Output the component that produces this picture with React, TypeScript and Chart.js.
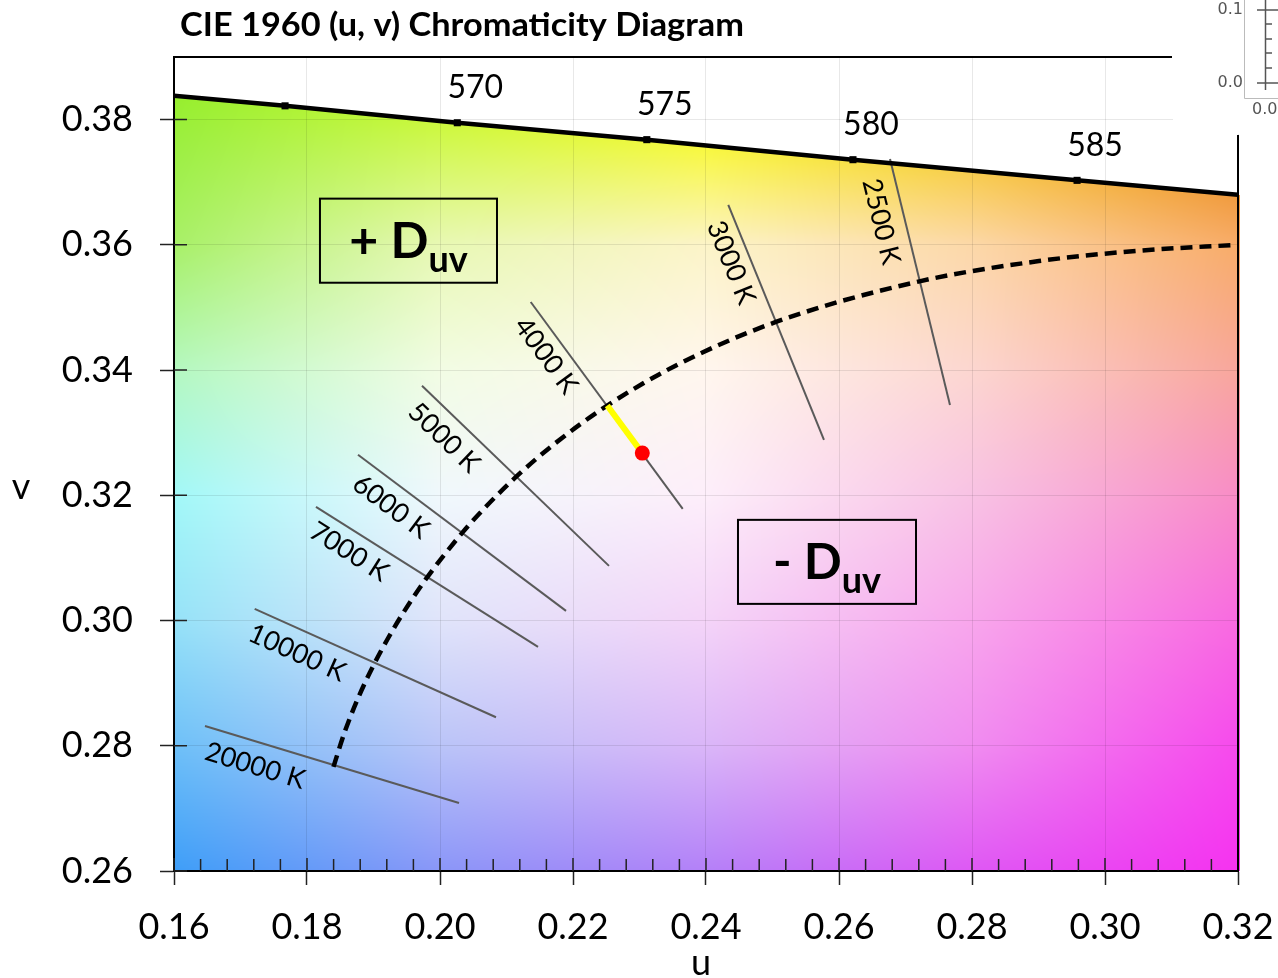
import React, { useEffect, useRef } from 'react';
import { Chart, registerables } from 'chart.js';

Chart.register(...registerables);

// ---------- data ----------
const X_TICKS = [0.16, 0.18, 0.2, 0.22, 0.24, 0.26, 0.28, 0.3, 0.32];
const Y_TICKS = [0.26, 0.28, 0.3, 0.32, 0.34, 0.36, 0.38];

// spectral locus (u, v) with wavelength markers
const LOCUS_U = [0.16, 0.1767, 0.2026, 0.2311, 0.2621, 0.2958, 0.32];
const LOCUS_V = [0.3838, 0.3822, 0.3795, 0.3768, 0.3736, 0.3703, 0.368];
const LOCUS_MARK = [false, true, true, true, true, true, false];
const LOCUS_LABELS = ['', '', '570', '575', '580', '585', ''];

// Planckian locus
const PLANCK_T = [20000, 15000, 12000, 10000, 9000, 8000, 7000, 6000, 5500, 5000, 4500, 4000, 3500, 3000, 2500, 2200, 2000, 1830];
const PLANCK_U = [0.18398, 0.18568, 0.18777, 0.19025, 0.1921, 0.19461, 0.19815, 0.20337, 0.20696, 0.2115, 0.21738, 0.22515, 0.23571, 0.25051, 0.2721, 0.29006, 0.30502, 0.32015];
const PLANCK_V = [0.27664, 0.28223, 0.28783, 0.29337, 0.29701, 0.30147, 0.30702, 0.31404, 0.31825, 0.32301, 0.32836, 0.33434, 0.34086, 0.34768, 0.35417, 0.35741, 0.35906, 0.36002];

// isotherm lines
const ISO_LABELS = ['20000 K', '10000 K', '7000 K', '6000 K', '5000 K', '4000 K', '3000 K', '2500 K'];
const ISO_U1 = [0.16466, 0.17213, 0.18135, 0.18767, 0.19729, 0.21364, 0.24335, 0.26767];
const ISO_V1 = [0.28316, 0.30186, 0.31816, 0.32647, 0.33749, 0.35087, 0.36637, 0.37372];
const ISO_U2 = [0.20286, 0.20842, 0.21474, 0.21895, 0.22541, 0.2365, 0.25774, 0.27669];
const ISO_V2 = [0.27086, 0.28455, 0.29579, 0.30154, 0.30873, 0.31784, 0.32887, 0.33441];
const ISO_TEXT_U = [0.17218, 0.1785, 0.18632, 0.19263, 0.2006, 0.21594, 0.24376, 0.26632];
const ISO_TEXT_V = [0.27677, 0.29483, 0.31097, 0.31816, 0.32918, 0.34229, 0.35715, 0.3637];

// test point (Duv example)
const TEST_T = 4000;
const TEST_U = 0.23042;
const TEST_V = 0.32674;

// Duv annotation boxes
const BOX_SIGN = ['+', '-'];
const BOX_U1 = [0.18195, 0.24481];
const BOX_V1 = [0.36738, 0.31608];
const BOX_U2 = [0.20857, 0.27158];
const BOX_V2 = [0.35395, 0.30266];

const TITLE = 'CIE 1960 (u, v) Chromaticity Diagram';

// background colour field (appearance of the chromaticity fill)
const BG_COLS_U = [0.16, 0.2, 0.24, 0.28, 0.32];
const BG_ROWS_V = [0.26, 0.28, 0.3, 0.32, 0.34, 0.36];
const BG_ROWS = [
  ['#3e9ef8', '#8a96f8', '#b480f8', '#de58f4', '#f632f0'],
  ['#6ec0f8', '#bac4f8', '#dab6f8', '#f08cf0', '#f64aec'],
  ['#96e2f8', '#e0e4fa', '#f4d4f8', '#f8a6ec', '#f86ae0'],
  ['#a2f8f8', '#f0f8fc', '#fdeefa', '#f8c2e4', '#f88cc6'],
  ['#b4f8c0', '#f2fce4', '#fff6ee', '#fcd6d0', '#f8a69c'],
  ['#a8f068', '#e8f8b4', '#fcf4c8', '#fcd8a8', '#f8ac68'],
];
const BG_LOCUS_ROW = ['#96ee2e', '#ccf83c', '#f8f83c', '#f8cc4c', '#f09a3e'];

// ---------- helpers ----------
function locusAt(u: number): number {
  if (u <= LOCUS_U[0]) return LOCUS_V[0];
  for (let i = 1; i < LOCUS_U.length; i++) {
    if (u <= LOCUS_U[i]) {
      const t = (u - LOCUS_U[i - 1]) / (LOCUS_U[i] - LOCUS_U[i - 1]);
      return LOCUS_V[i - 1] + t * (LOCUS_V[i] - LOCUS_V[i - 1]);
    }
  }
  return LOCUS_V[LOCUS_V.length - 1];
}

function hex(h: string): number[] {
  return [parseInt(h.slice(1, 3), 16), parseInt(h.slice(3, 5), 16), parseInt(h.slice(5, 7), 16)];
}

function rowAt(row: number[][], u: number, out: number[]) {
  let i = 0;
  while (i < BG_COLS_U.length - 2 && u > BG_COLS_U[i + 1]) i++;
  let t = (u - BG_COLS_U[i]) / (BG_COLS_U[i + 1] - BG_COLS_U[i]);
  t = Math.max(0, Math.min(1, t));
  for (let c = 0; c < 3; c++) out[c] = row[i][c] + (row[i + 1][c] - row[i][c]) * t;
}

const bgPlugin = {
  id: 'chromaBg',
  beforeDraw(chart: any) {
    const { ctx, chartArea: ca, scales } = chart;
    const xs = scales.x;
    const ys = scales.y;
    const L = Math.round(ca.left);
    const T = Math.round(ca.top);
    const W = Math.round(ca.right) - L + 2;
    const H = Math.round(ca.bottom) - T;
    const off = document.createElement('canvas');
    off.width = W;
    off.height = H;
    const octx = off.getContext('2d')!;
    const img = octx.createImageData(W, H);
    const rows = BG_ROWS.map((r) => r.map(hex));
    const locRow = BG_LOCUS_ROW.map(hex);
    const data = img.data;
    const colRows: number[][][] = [];
    const colLocus: number[] = [];
    for (let i = 0; i < W; i++) {
      const u = xs.getValueForPixel(L + i + 0.5);
      const rr: number[][] = [];
      for (const r of rows) {
        const o = [0, 0, 0];
        rowAt(r, u, o);
        rr.push(o);
      }
      const o = [0, 0, 0];
      rowAt(locRow, u, o);
      rr.push(o);
      colRows.push(rr);
      colLocus.push(locusAt(u));
    }
    const nR = BG_ROWS_V.length;
    for (let j = 0; j < H; j++) {
      const v = ys.getValueForPixel(T + j + 0.5);
      let ri = 0;
      while (ri < nR - 2 && v > BG_ROWS_V[ri + 1]) ri++;
      for (let i = 0; i < W; i++) {
        const k = (j * W + i) * 4;
        data[k + 3] = 255;
        const lv = colLocus[i];
        if (v > lv) {
          data[k] = 255; data[k + 1] = 255; data[k + 2] = 255;
          continue;
        }
        const rr = colRows[i];
        let a: number[];
        let b: number[];
        let t: number;
        if (v >= BG_ROWS_V[nR - 1]) {
          a = rr[nR - 1];
          b = rr[nR];
          t = (v - BG_ROWS_V[nR - 1]) / (lv - BG_ROWS_V[nR - 1]);
        } else {
          a = rr[ri];
          b = rr[ri + 1];
          t = (v - BG_ROWS_V[ri]) / (BG_ROWS_V[ri + 1] - BG_ROWS_V[ri]);
        }
        t = Math.max(0, Math.min(1, t));
        data[k] = a[0] + (b[0] - a[0]) * t;
        data[k + 1] = a[1] + (b[1] - a[1]) * t;
        data[k + 2] = a[2] + (b[2] - a[2]) * t;
      }
    }
    octx.putImageData(img, 0, 0);
    ctx.save();
    ctx.fillStyle = '#fff';
    ctx.fillRect(0, 0, chart.width, chart.height);
    ctx.drawImage(off, L, T);
    ctx.restore();
  },
  beforeDatasetsDraw(chart: any) {
    const { ctx } = chart;
    ctx.save();
    ctx.fillStyle = '#fff';
    ctx.fillRect(1173, 40, 110, 94);
    ctx.restore();
  },
  afterDraw(chart: any) {
    const { ctx, chartArea: ca, scales } = chart;
    const xs = scales.x;
    const ys = scales.y;
    ctx.save();

    // top and right frame lines
    ctx.strokeStyle = '#000';
    ctx.lineWidth = 2;
    ctx.beginPath();
    ctx.moveTo(ca.left, ca.top);
    ctx.lineTo(1172, ca.top);
    ctx.moveTo(ca.right, 135);
    ctx.lineTo(ca.right, ca.bottom);
    ctx.stroke();

    // inside tick marks
    ctx.strokeStyle = '#222';
    ctx.lineWidth = 1.5;
    ctx.beginPath();
    for (let i = 0; i < X_TICKS.length - 1; i++) {
      const a = X_TICKS[i];
      const b = X_TICKS[i + 1];
      const px = xs.getPixelForValue(a);
      ctx.moveTo(px, ca.bottom);
      ctx.lineTo(px, ca.bottom - 13);
      for (let m = 1; m < 5; m++) {
        const mx = xs.getPixelForValue(a + ((b - a) * m) / 5);
        ctx.moveTo(mx, ca.bottom);
        ctx.lineTo(mx, ca.bottom - 12);
      }
    }
    for (const t of Y_TICKS) {
      const py = ys.getPixelForValue(t);
      ctx.moveTo(ca.left, py);
      ctx.lineTo(ca.left + 13, py);
    }
    ctx.stroke();

    // wavelength labels
    ctx.fillStyle = '#000';
    ctx.font = '32px Lato';
    ctx.textAlign = 'center';
    ctx.textBaseline = 'middle';
    LOCUS_LABELS.forEach((lab, i) => {
      if (!lab) return;
      const px = xs.getPixelForValue(LOCUS_U[i]);
      const py = ys.getPixelForValue(LOCUS_V[i]);
      ctx.fillText(lab, px + 18, py - 35);
    });

    // isotherm labels
    ctx.font = '27px Lato';
    ISO_LABELS.forEach((lab, i) => {
      const x1 = xs.getPixelForValue(ISO_U1[i]);
      const y1 = ys.getPixelForValue(ISO_V1[i]);
      const x2 = xs.getPixelForValue(ISO_U2[i]);
      const y2 = ys.getPixelForValue(ISO_V2[i]);
      const ang = Math.atan2(y2 - y1, x2 - x1);
      const tx = xs.getPixelForValue(ISO_TEXT_U[i]);
      const ty = ys.getPixelForValue(ISO_TEXT_V[i]);
      ctx.save();
      ctx.translate(tx, ty);
      ctx.rotate(ang);
      ctx.fillText(lab, 0, 0);
      ctx.restore();
    });

    // Duv boxes
    BOX_SIGN.forEach((s, i) => {
      const x1 = xs.getPixelForValue(BOX_U1[i]);
      const y1 = ys.getPixelForValue(BOX_V1[i]);
      const x2 = xs.getPixelForValue(BOX_U2[i]);
      const y2 = ys.getPixelForValue(BOX_V2[i]);
      ctx.strokeStyle = '#000';
      ctx.lineWidth = 2;
      ctx.strokeRect(x1, y1, x2 - x1, y2 - y1);
      const main = s + ' D';
      ctx.font = 'bold 50px Lato';
      const w1 = ctx.measureText(main).width;
      ctx.font = 'bold 36px Lato';
      const w2 = ctx.measureText('uv').width;
      const start = (x1 + x2) / 2 - (w1 + w2) / 2;
      ctx.textAlign = 'left';
      ctx.textBaseline = 'alphabetic';
      ctx.font = 'bold 50px Lato';
      ctx.fillText(main, start, y1 + 59);
      ctx.font = 'bold 36px Lato';
      ctx.fillText('uv', start + w1, y1 + 73);
    });

    // title
    ctx.font = 'bold 33px Lato';
    ctx.textAlign = 'left';
    ctx.textBaseline = 'alphabetic';
    const tw = ctx.measureText(TITLE).width;
    ctx.save();
    ctx.translate(180, 36);
    ctx.scale(564 / tw, 1);
    ctx.fillText(TITLE, 0, 0);
    ctx.restore();

    // axis titles
    ctx.font = '36px Lato';
    ctx.textAlign = 'center';
    ctx.textBaseline = 'middle';
    ctx.fillText('v', 21, 487);
    ctx.fillText('u', 701, 963);

    // stray inset axis (top right)
    ctx.strokeStyle = '#bbb';
    ctx.lineWidth = 1;
    ctx.beginPath();
    ctx.moveTo(1244.5, 0);
    ctx.lineTo(1244.5, 98.5);
    ctx.lineTo(1278, 98.5);
    ctx.stroke();
    ctx.strokeStyle = '#555';
    ctx.lineWidth = 1.5;
    ctx.beginPath();
    ctx.moveTo(1265.5, 0);
    ctx.lineTo(1265.5, 90);
    ctx.moveTo(1257, 10);
    ctx.lineTo(1278, 10);
    ctx.moveTo(1257, 83);
    ctx.lineTo(1278, 83);
    for (const yy of [24, 39, 53, 68]) {
      ctx.moveTo(1265, yy);
      ctx.lineTo(1272, yy);
    }
    ctx.stroke();
    ctx.fillStyle = '#555';
    ctx.font = '16px "DejaVu Sans"';
    ctx.textAlign = 'right';
    ctx.fillText('0.1', 1243, 10);
    ctx.fillText('0.0', 1243, 83);
    ctx.textAlign = 'left';
    ctx.fillText('0.0', 1252, 110);

    ctx.restore();
  },
};

export default function App() {
  const ref = useRef<HTMLCanvasElement>(null);
  useEffect(() => {
    document.body.style.margin = '0';
    const canvas = ref.current!;
    const iT = PLANCK_T.indexOf(TEST_T);
    const isoSets = ISO_LABELS.map((lab, i) => ({
      label: lab,
      data: [
        { x: ISO_U1[i], y: ISO_V1[i] },
        { x: ISO_U2[i], y: ISO_V2[i] },
      ],
      showLine: true,
      borderColor: '#5a5a5a',
      borderWidth: 2,
      pointRadius: 0,
      order: 4,
    }));
    const chart = new Chart(canvas, {
      type: 'scatter',
      data: {
        datasets: [
          {
            label: 'test',
            data: [{ x: TEST_U, y: TEST_V }],
            pointRadius: 7.5,
            pointBackgroundColor: '#ff0000',
            pointBorderColor: '#ff0000',
            pointBorderWidth: 0,
            showLine: false,
            order: 0,
          },
          {
            label: 'duv',
            data: [
              { x: PLANCK_U[iT], y: PLANCK_V[iT] },
              { x: TEST_U, y: TEST_V },
            ],
            showLine: true,
            borderColor: '#ffff00',
            borderWidth: 6,
            pointRadius: 0,
            order: 1,
          },
          {
            label: 'locus',
            data: LOCUS_U.map((u, i) => ({ x: u, y: LOCUS_V[i] })),
            showLine: true,
            borderColor: '#000',
            borderWidth: 4.5,
            pointStyle: 'rect',
            pointRadius: LOCUS_MARK.map((m) => (m ? 5 : 0)),
            pointBackgroundColor: '#000',
            pointBorderColor: '#000',
            pointBorderWidth: 0,
            order: 2,
          },
          {
            label: 'planck',
            data: PLANCK_U.map((u, i) => ({ x: u, y: PLANCK_V[i] })),
            showLine: true,
            borderColor: '#000',
            borderWidth: 4.5,
            borderDash: [12, 7],
            pointRadius: 0,
            cubicInterpolationMode: 'monotone',
            order: 3,
          },
          ...isoSets,
        ] as any,
      },
      options: {
        responsive: false,
        animation: false,
        devicePixelRatio: 1,
        layout: { padding: { top: 57, right: 40, left: 0, bottom: 0 } },
        plugins: { legend: { display: false }, tooltip: { enabled: false } },
        scales: {
          x: {
            type: 'linear',
            min: 0.16,
            max: 0.32,
            afterBuildTicks: (s: any) => {
              s.ticks = X_TICKS.map((v) => ({ value: v }));
            },
            afterFit: (s: any) => {
              s.height = 107;
              s.paddingLeft = 0;
              s.paddingRight = 0;
            },
            ticks: {
              callback: (v: any) => Number(v).toFixed(2),
              font: { family: 'Lato', size: 36 },
              color: '#000',
              padding: 21,
              maxRotation: 0,
              autoSkip: false,
            },
            grid: { color: 'rgba(0,0,0,0.09)', tickLength: 14, tickColor: '#222', tickWidth: 1.5 },
            border: { color: '#000', width: 2 },
          },
          y: {
            type: 'linear',
            min: 0.26,
            max: 0.39,
            afterBuildTicks: (s: any) => {
              s.ticks = Y_TICKS.map((v) => ({ value: v }));
            },
            afterFit: (s: any) => {
              s.width = 174;
              s.paddingTop = 0;
              s.paddingBottom = 0;
            },
            ticks: {
              callback: (v: any) => Number(v).toFixed(2),
              font: { family: 'Lato', size: 36 },
              color: '#000',
              padding: 27,
              autoSkip: false,
            },
            grid: { color: 'rgba(0,0,0,0.09)', tickLength: 14, tickColor: '#222', tickWidth: 1.5 },
            border: { color: '#000', width: 2 },
          },
        },
      } as any,
      plugins: [bgPlugin],
    });
    return () => chart.destroy();
  }, []);
  return (
    <div style={{ width: 1278, height: 978 }}>
      <canvas ref={ref} width={1278} height={978} style={{ display: 'block' }} />
    </div>
  );
}
